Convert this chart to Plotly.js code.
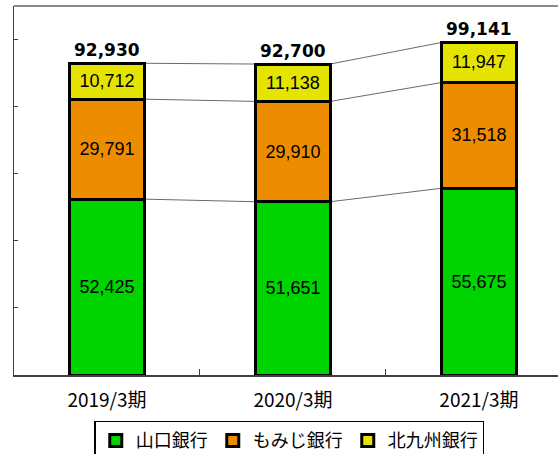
<!DOCTYPE html>
<html>
<head>
<meta charset="utf-8">
<script src="https://cdn.plot.ly/plotly-3.0.1.min.js"></script>
<style>html,body{margin:0;padding:0;background:#fff;}#chart{width:558px;height:454px;}</style>
</head>
<body>
<div id="chart"></div>
<script>
const categories = ['2019/3期', '2020/3期', '2021/3期'];
const seriesNames = ['山口銀行', 'もみじ銀行', '北九州銀行'];
const yamaguchi = [52425, 51651, 55675];
const momiji = [29791, 29910, 31518];
const kitakyushu = [10712, 11138, 11947];
const totals = [92930, 92700, 99141];

const colors = ['#00d400', '#ee8c00', '#e4e400'];
const seriesValues = [yamaguchi, momiji, kitakyushu];
const barWidth = 0.4;

const traces = seriesValues.map((vals, k) => ({
  type: 'bar',
  name: seriesNames[k],
  x: categories,
  y: vals,
  width: barWidth,
  marker: {color: colors[k], line: {color: '#000', width: 3}},
  texttemplate: '%{y:,}',
  textposition: 'inside',
  insidetextanchor: 'middle',
  constraintext: 'none',
  textangle: 0,
  textfont: {family: 'Liberation Sans, Arial, sans-serif', size: 18, color: '#000'},
  hoverinfo: 'skip'
}));

// connector lines between stacked segment tops
const shapes = [];
const levels = [];
let acc = [0, 0, 0];
seriesValues.forEach(vals => {
  acc = acc.map((a, i) => a + vals[i]);
  levels.push(acc.slice());
});
for (let i = 0; i < categories.length - 1; i++) {
  levels.forEach(lv => {
    shapes.push({type: 'line', xref: 'x', yref: 'y', layer: 'below',
      x0: i + barWidth / 2, x1: i + 1 - barWidth / 2, y0: lv[i], y1: lv[i + 1],
      line: {color: '#6a6a6a', width: 1}});
  });
}
shapes.push({type: 'line', xref: 'paper', yref: 'paper', x0: 0, x1: 1, y0: 1, y1: 1,
  line: {color: '#8c8c8c', width: 2}});

const annotations = totals.map((t, i) => ({
  x: categories[i], y: t, xref: 'x', yref: 'y',
  text: t.toLocaleString('en-US'), showarrow: false,
  yanchor: 'bottom', yshift: 1,
  font: {family: 'DejaVu Sans, Verdana, sans-serif', size: 17, color: '#000', weight: 'bold'}
}));

const layout = {
  width: 558, height: 454,
  margin: {l: 14, r: 0, t: 6, b: 79, autoexpand: false},
  paper_bgcolor: '#fff', plot_bgcolor: '#fff',
  barmode: 'stack',
  showlegend: true,
  legend: {
    orientation: 'h', x: 0.506, xanchor: 'center', y: -0.124, yanchor: 'top',
    bgcolor: '#fff', bordercolor: '#000', borderwidth: 1.5,
    font: {family: 'Noto Sans CJK JP, sans-serif', size: 18, color: '#000'},
    traceorder: 'normal'
  },
  xaxis: {
    type: 'category', range: [-0.5, 2.425],
    showline: true, linecolor: '#404040', linewidth: 1.5,
    ticks: 'inside', tickson: 'boundaries', ticklen: 6, tickcolor: '#404040', tickwidth: 1,
    tickfont: {family: 'Noto Sans CJK JP, sans-serif', size: 19, color: '#000'},
    ticklabelstandoff: 8,
    showgrid: false, zeroline: false, fixedrange: true
  },
  yaxis: {
    range: [0, 110000], dtick: 20000, tick0: 0,
    showline: true, linecolor: '#404040', linewidth: 1.5,
    ticks: 'inside', ticklen: 4, tickcolor: '#404040',
    showticklabels: false, showgrid: false, zeroline: false, fixedrange: true
  },
  shapes: shapes,
  annotations: annotations
};

Plotly.newPlot('chart', traces, layout, {displayModeBar: false, staticPlot: true});
</script>
</body>
</html>
